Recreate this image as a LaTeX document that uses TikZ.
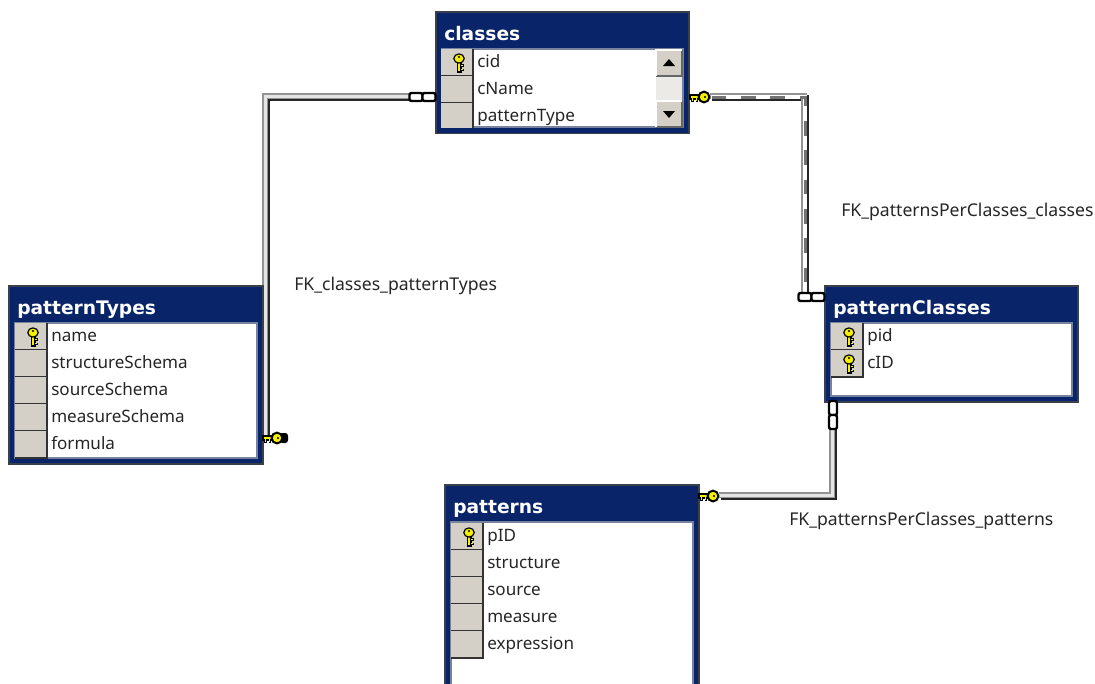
\documentclass[tikz,border=0pt]{standalone}
\usepackage{fontspec}
\setmainfont{Noto Sans}
\newfontfamily\titlefont{DejaVu Sans Bold}
\definecolor{titlenavy}{HTML}{0A246A}
\definecolor{guttergrey}{HTML}{D4D0C8}
\definecolor{framedark}{HTML}{3A3F4C}
\definecolor{keyyellow}{HTML}{F4F000}
\tikzset{
  framebox/.style={draw=framedark,fill=titlenavy,line width=1pt},
  rowcell/.style={fill=guttergrey},
  rowedge/.style={black!80,line width=1.1pt},
  titletext/.style={text=white,anchor=base west,inner sep=0pt,font=\fontsize{14}{16}\titlefont},
  rowtext/.style={text=black!85,anchor=base west,inner sep=0pt,font=\fontsize{12.8}{14}\selectfont},
  fklabel/.style={text=black!85,anchor=base west,inner sep=0pt,font=\fontsize{13.2}{15}\selectfont},
  chainlink/.style={draw=black,fill=white,line width=1.8pt,rounded corners=1.5pt},
  keybit/.style={draw=black,fill=keyyellow,line width=0.9pt},
  lowedge/.style={black!85,line width=4.8pt,transform canvas={xshift=0.75pt,yshift=-0.75pt}},
  highedge/.style={black!42,line width=4.8pt,transform canvas={xshift=-0.75pt,yshift=0.75pt}},
  corestripe/.style={black!10,line width=1.8pt,transform canvas={xshift=-0.5pt,yshift=0.5pt}},
  dashbar/.style={black!55,line width=2.2pt,dash pattern=on 11pt off 11pt,transform canvas={xshift=0.5pt,yshift=-0.5pt}}
}
% connector: dark lower edge, grey upper edge, pale core
\newcommand{\fkline}[1]{
  \draw[lowedge] #1;
  \draw[highedge] #1;
  \draw[corestripe] #1;
}
% key standing upright: centre x, top of row
\newcommand{\rowkey}[2]{
  \draw[keybit,line width=1.4pt] (#1-1.5,#2+10) rectangle (#1+1.8,#2+23);
  \fill[black] (#1+2,#2+15) rectangle (#1+5,#2+17.5);
  \fill[black] (#1+2,#2+19.5) rectangle (#1+5,#2+22);
  \fill[keyyellow] (#1+1.5,#2+15.7) rectangle (#1+4,#2+16.9);
  \fill[keyyellow] (#1+1.5,#2+20.2) rectangle (#1+4,#2+21.4);
  \draw[keybit] (#1,#2+9.5) ellipse (5.2 and 4.6);
  \fill[black] (#1,#2+8) circle (1.1);
}
% key lying flat: centre of head, y
\newcommand{\flatkey}[2]{
  \draw[keybit,line width=1.4pt] (#1-14,#2-1.8) rectangle (#1-2,#2+1.6);
  \fill[black] (#1-13,#2+1.5) rectangle (#1-10.5,#2+4.5);
  \fill[black] (#1-8.5,#2+1.5) rectangle (#1-6,#2+4.5);
  \fill[keyyellow] (#1-12.3,#2+1) rectangle (#1-11.2,#2+3.5);
  \fill[keyyellow] (#1-7.8,#2+1) rectangle (#1-6.7,#2+3.5);
  \draw[keybit,line width=1.5pt] (#1,#2) circle (5.4);
  \fill[black] (#1+1,#2) circle (1.1);
}
\begin{document}
\begin{tikzpicture}[x=0.75pt,y=-0.75pt]
\useasboundingbox (0,0) rectangle (1095,683);
\fill[white] (0,0) rectangle (1095,683);
\clip (0,0) rectangle (1095,683);

% connector ends
\coordinate (cl) at (411,97);
\coordinate (ct) at (266,438);
\coordinate (cr) at (711,97);
\coordinate (pc) at (805,297);
\coordinate (pb) at (833,428);
\coordinate (pk) at (720,496);

% connectors
\fkline{(cl) -- (266,97) -- (ct)}
\draw[lowedge] (cr) -- (805,97) -- (pc);
\draw[highedge] (cr) -- (805,97) -- (pc);
\draw[white,line width=3pt] (cr) -- (805,97) -- (pc);
\draw[dashbar] (cr) -- (805,97) -- (pc);
\fkline{(pb) -- (833,496) -- (pk)}

% tables
\foreach \nm/\xa/\ya/\xb/\yb/\ttl in {tclasses/436/12/689/133/classes,ttypes/9/286/263/464/patternTypes,tpairs/825/286/1078/402/patternClasses,tpatterns/445/485/699/700/patterns}{
  \draw[framebox] (\xa,\ya) rectangle (\xb,\yb);
  \fill[white] (\xa+6,\ya+37) rectangle (\xb-6,\yb-6);
  \draw[black!25!titlenavy!55,line width=1pt] (\xa+6,\ya+37) rectangle (\xb-6,\yb-6);
  \node[titletext] (\nm) at (\xa+8,\ya+28) {\ttl};
}

% rows
\foreach \gx/\ry/\txt in {441/49/cid,441/76/cName,441/103/patternType,
  15/323/name,15/350/structureSchema,15/377/sourceSchema,15/404/measureSchema,15/431/formula,
  831/323/pid,831/350/cID,
  451/523/pID,451/550/structure,451/577/source,451/604/measure,451/631/expression}{
  \fill[rowcell] (\gx,\ry) rectangle (\gx+32,\ry+27);
  \draw[rowedge] (\gx,\ry+27) -- (\gx+32,\ry+27) -- (\gx+32,\ry);
  \node[rowtext] at (\gx+36,\ry+18) {\txt};
}
\fill[titlenavy] (437,127.5) rectangle (688,132.5);

% primary keys
\foreach \kx/\ky in {459/49,33/323,849/323,849/350,469/523}{
  \rowkey{\kx}{\ky}
}

% scroll bar
\fill[guttergrey!45] (656,76) rectangle (682,101);
\foreach \yy in {50,101}{
  \fill[guttergrey] (656,\yy) rectangle (682,\yy+26);
  \draw[black!60,line width=1pt] (656,\yy+26) -- (682,\yy+26) -- (682,\yy);
  \draw[white,line width=1pt] (656,\yy+26) -- (656,\yy) -- (682,\yy);
}
\fill[black] (669,59) -- (663,66) -- (675,66) -- cycle;
\fill[black] (669,118) -- (663,111) -- (675,111) -- cycle;

% chain links
\foreach \lx/\ly in {416/97,429/97,805/297,818/297}{
  \draw[chainlink] (\lx-6.5,\ly-4) rectangle (\lx+6.5,\ly+4);
}
\foreach \lx/\ly in {833/408,833/422}{
  \draw[chainlink] (\lx-4,\ly-7) rectangle (\lx+4,\ly+7);
}

% key ends
\flatkey{704}{97}
\fill[black,rounded corners=2pt] (280,433) rectangle (288,443);
\flatkey{277}{438}
\flatkey{713}{496}

% labels
\node[fklabel] (fka) at (294,290) {FK\_classes\_patternTypes};
\node[fklabel] (fkb) at (841,216) {FK\_patternsPerClasses\_classes};
\node[fklabel] (fkc) at (789,525) {FK\_patternsPerClasses\_patterns};
\end{tikzpicture}
\end{document}
